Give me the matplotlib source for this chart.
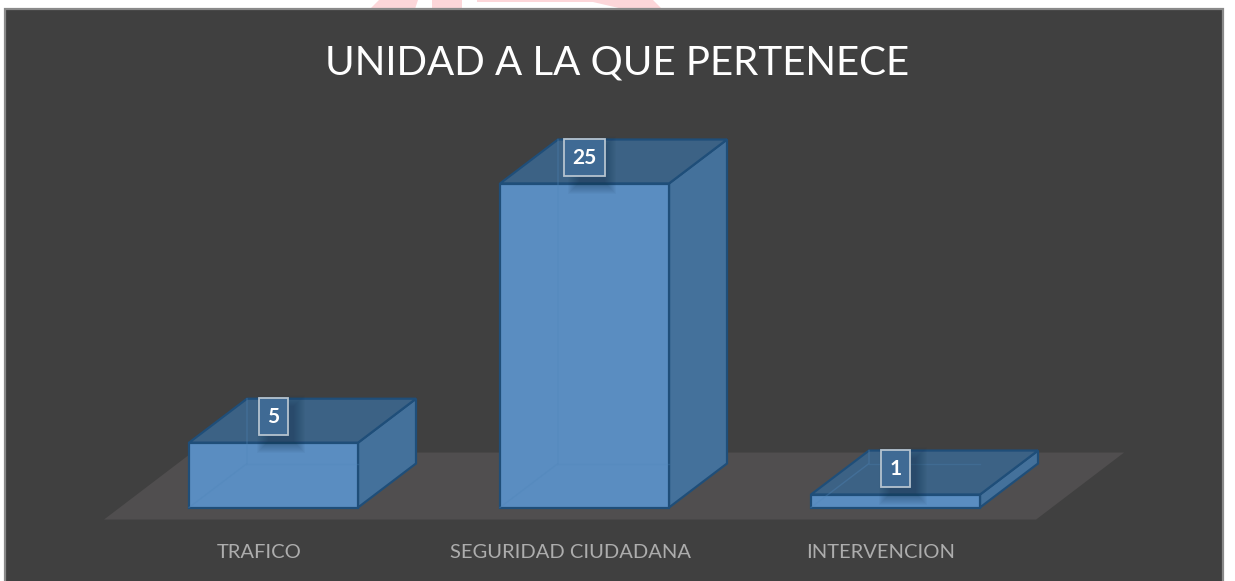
import matplotlib
matplotlib.use('Agg')
import matplotlib.pyplot as plt
from matplotlib.patches import Polygon, Rectangle

categories = ['TRAFICO', 'SEGURIDAD CIUDADANA', 'INTERVENCION']
values = [5, 25, 1]
title = 'UNIDAD A LA QUE PERTENECE'

W, H = 1235, 581
bg = '#404040'
PX = 311.0     # pixels per category
PY = 12.96     # pixels per unit
X0, Y0 = 273.5, 507.5  # first category centre, zero line
depth_x = 58 / PX
depth_y = 44 / PY
bar_w = 169 / PX

plt.rcParams['font.family'] = ['Lato', 'DejaVu Sans']
fig = plt.figure(figsize=(W / 100, H / 100), dpi=100, facecolor='white')

ax = fig.add_axes([0, 0, 1, 1])
ax.set_xlim(-X0 / PX, (W - X0) / PX)
ax.set_ylim((Y0 - H) / PY, Y0 / PY)
ax.axis('off')


def px(points):
    # pixel coords from the top left, to axes fractions
    return [(x / W, 1 - y / H) for x, y in points]


# pink watermark peeking out above the panel
for shape in ([(370, 9), (379, 0), (418, 0), (415, 9)],
              [(432, 0), (462, 0), (462, 9), (432, 9)],
              [(477, 0), (653, 0), (662, 9), (623, 9), (593, 2), (477, 2)]):
    ax.add_patch(Polygon(px(shape), transform=ax.transAxes, facecolor='#fcd6d9', edgecolor='none', zorder=0))

# panel
ax.add_patch(Rectangle((5 / W, -5 / H), 1218 / W, 577 / H, transform=ax.transAxes,
                       facecolor=bg, edgecolor='#8a8a8a', linewidth=1.6, zorder=0.5))

# floor
fl, fr = -0.545, 2.452
fb = -0.93
ft = fb + 67 / PY
fd = 88 / PX
ax.add_patch(Polygon([(fl, fb), (fr, fb), (fr + fd, ft), (fl + fd, ft)],
                     facecolor='#504e4f', edgecolor='none', zorder=1))

edge = '#1f4e79'
for i, v in enumerate(values):
    l, r = i - bar_w / 2, i + bar_w / 2
    ax.add_patch(Polygon([(r, 0), (r + depth_x, depth_y), (r + depth_x, v + depth_y), (r, v)],
                         facecolor='#44719b', edgecolor=edge, linewidth=1.6, zorder=3))
    ax.add_patch(Polygon([(l, v), (r, v), (r + depth_x, v + depth_y), (l + depth_x, v + depth_y)],
                         facecolor='#3c6285', edgecolor=edge, linewidth=1.6, zorder=3))
    ax.add_patch(Rectangle((l, 0), bar_w, v, facecolor='#5a8dc1', edgecolor=edge,
                           linewidth=1.6, zorder=4))
    # back edges seen through the front face
    ax.plot([l, l + depth_x, l + depth_x], [0, depth_y, v + depth_y], color='#4f86ba',
            linewidth=1, alpha=0.35, zorder=4.5)
    ax.plot([l + depth_x, r], [depth_y, depth_y], color='#4f86ba', linewidth=1, alpha=0.25, zorder=4.5)

    # label with soft shadow
    ly = v + 26 / PY
    for g in range(24, 0, -2):
        ax.add_patch(Rectangle((i - (14 + g / 2 - 9) / PX, ly - (19 + g / 2 + 5) / PY),
                               (24 + g) / PX, (34 + g) / PY,
                               facecolor='#16324d', alpha=0.04, edgecolor='none', zorder=5))
    ax.text(i, ly, str(v), ha='center', va='center', color='white', fontsize=15,
            fontweight='bold', zorder=7,
            bbox=dict(boxstyle='square,pad=0.42', facecolor='#3f6a94',
                      edgecolor='#b5c3cf', linewidth=1.3))

    ax.text(i - 14.5 / PX, (Y0 - 553) / PY, categories[i], ha='center', va='center',
            color='#adadad', fontsize=14.5)

ax.text(0.5, 1 - 63 / H, title, transform=ax.transAxes, ha='center', va='center',
        color='white', fontsize=29)

fig.savefig('out.png', dpi=100, facecolor='white')
